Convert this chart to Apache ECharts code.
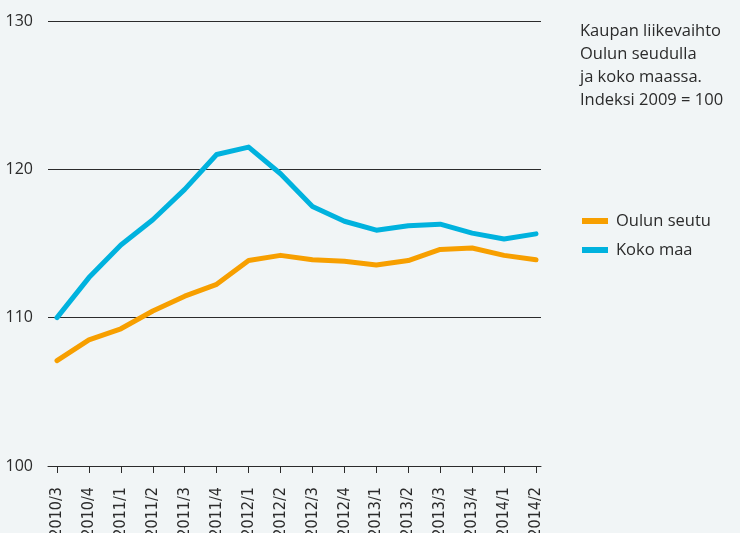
<!DOCTYPE html>
<html>
<head>
<meta charset="utf-8">
<script src="https://cdn.jsdelivr.net/npm/echarts@6/dist/echarts.min.js"></script>
<style>
  html, body { margin: 0; padding: 0; background: #f1f5f6; }
  #chart { width: 740px; height: 533px; }
</style>
</head>
<body>
<div id="chart"></div>
<script>
// quarters on the x axis
const quarters = ['2010/3', '2010/4', '2011/1', '2011/2', '2011/3', '2011/4',
  '2012/1', '2012/2', '2012/3', '2012/4', '2013/1', '2013/2', '2013/3', '2013/4',
  '2014/1', '2014/2']

// index values, 2009 = 100
const oulunSeutu = [107.1, 108.5, 109.25, 110.45, 111.45, 112.25, 113.85, 114.2,
  113.9, 113.8, 113.55, 113.85, 114.6, 114.7, 114.2, 113.9]
const kokoMaa = [110.0, 112.7, 114.9, 116.6, 118.65, 121.0, 121.5, 119.7,
  117.5, 116.5, 115.9, 116.2, 116.3, 115.7, 115.3, 115.65]

const yTicks = [100, 110, 120, 130]

const seriesNames = ['Oulun seutu', 'Koko maa']
const titleLines = ['Kaupan liikevaihto', 'Oulun seudulla', 'ja koko maassa.', 'Indeksi 2009 = 100']

const orange = '#f79f00'
const blue = '#00b2de'
const ink = '#2b2b2b'

const chartDom = document.getElementById('chart')
const myChart = echarts.init(chartDom)

const option = {
  backgroundColor: '#f1f5f6',
  animation: false,
  title: {
    text: titleLines.join('\n'),
    left: 575,
    top: 15,
    textStyle: {
      fontFamily: 'Open Sans',
      fontWeight: 'normal',
      fontSize: 16.5,
      lineHeight: 23,
      color: ink
    }
  },
  legend: {
    data: seriesNames,
    orient: 'vertical',
    left: 577,
    top: 206,
    icon: 'rect',
    itemWidth: 26,
    itemHeight: 6,
    itemGap: 9,
    textStyle: {
      fontFamily: 'Open Sans',
      fontSize: 16.5,
      lineHeight: 20,
      color: ink,
      padding: [0, 0, 0, 3]
    }
  },
  grid: [
    // grid for the gridlines and axis line (wider than data)
    { left: 48, right: 199, top: 21, bottom: 67, outerBoundsMode: 'none' },
    // grid for the data
    { left: 57, right: 204, top: 21, bottom: 67, outerBoundsMode: 'none' }
  ],
  xAxis: [
    {
      gridIndex: 0,
      type: 'value',
      min: 0,
      max: 1,
      axisLine: { show: true, onZero: false, lineStyle: { color: ink, width: 1 } },
      axisTick: { show: false },
      axisLabel: { show: false },
      splitLine: { show: false }
    },
    {
      gridIndex: 1,
      type: 'category',
      data: quarters,
      boundaryGap: false,
      axisLine: { show: false },
      axisTick: { show: true, length: 7, lineStyle: { color: ink } },
      axisLabel: {
        rotate: 90,
        margin: 21,
        fontFamily: '"DejaVu Sans Condensed"',
        fontSize: 16,
        color: ink
      },
      splitLine: { show: false }
    }
  ],
  yAxis: [
    {
      gridIndex: 0,
      type: 'value',
      min: yTicks[0],
      max: yTicks[yTicks.length - 1],
      interval: 10,
      axisLine: { show: false },
      axisTick: { show: false },
      axisLabel: {
        margin: 15,
        fontFamily: 'Open Sans',
        fontSize: 16,
        color: ink
      },
      splitLine: { show: true, lineStyle: { color: ink, width: 1 } }
    },
    {
      gridIndex: 1,
      type: 'value',
      min: yTicks[0],
      max: yTicks[yTicks.length - 1],
      show: false,
      splitLine: { show: false }
    }
  ],
  series: [
    {
      name: seriesNames[0],
      type: 'line',
      xAxisIndex: 1,
      yAxisIndex: 1,
      data: oulunSeutu,
      symbol: 'none',
      lineStyle: { color: orange, width: 5, cap: 'round', join: 'round' },
      itemStyle: { color: orange }
    },
    {
      name: seriesNames[1],
      type: 'line',
      xAxisIndex: 1,
      yAxisIndex: 1,
      data: kokoMaa,
      symbol: 'none',
      lineStyle: { color: blue, width: 5, cap: 'round', join: 'round' },
      itemStyle: { color: blue }
    }
  ]
}

myChart.setOption(option)
</script>
</body>
</html>
